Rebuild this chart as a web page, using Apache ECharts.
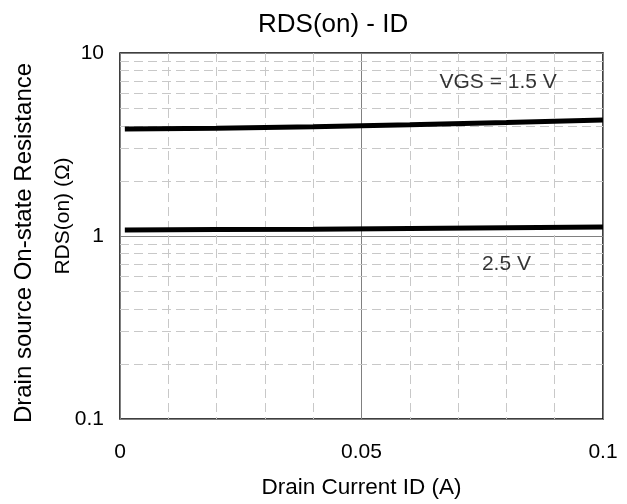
<!DOCTYPE html>
<html><head><meta charset="utf-8">
<script src="https://cdn.jsdelivr.net/npm/echarts@6/dist/echarts.min.js"></script>
<style>html,body{margin:0;padding:0;background:#fff}#c{width:627px;height:504px}</style>
</head><body><div id="c"></div>
<script>
const titleText = "RDS(on) - ID";
const xName = "Drain Current ID (A)";
const yName1 = "Drain source On-state Resistance";
const yName2 = "RDS(on) (Ω)";
const xCurrent = [0.001, 0.02, 0.04, 0.06, 0.08, 0.1];
const rds15 = [3.84, 3.88, 3.95, 4.05, 4.17, 4.3];
const rds25 = [1.08, 1.085, 1.09, 1.10, 1.11, 1.12];
const labels = [{name: "VGS = 1.5 V", x: 0.0783, y: 6.95}, {name: "2.5 V", x: 0.080, y: 0.70}];
const minorY = [0.2,0.3,0.4,0.5,0.6,0.7,0.8,0.9,2,3,4,5,6,7,8,9];

const font = "'Liberation Sans', Arial, sans-serif";
const chart = echarts.init(document.getElementById('c'), null, {renderer: 'canvas'});
chart.setOption({
  animation: false,
  title: {text: titleText, left: 253, top: 7, textStyle: {fontFamily: font, fontSize: 26, fontWeight: 'normal', color: '#000'}},
  grid: {left: 120, right: 24, top: 53, bottom: 84, show: true, borderColor: '#000', borderWidth: 1.5, backgroundColor: 'transparent'},
  xAxis: {
    type: 'value', min: 0, max: 0.1, interval: 0.05,
    name: xName, nameLocation: 'middle', nameGap: 57,
    nameTextStyle: {fontFamily: font, fontSize: 22.5, color: '#000'},
    axisLine: {show: false}, axisTick: {show: false},
    axisLabel: {fontFamily: font, fontSize: 21, color: '#000', margin: 23, formatter: v => String(+v.toFixed(3))},
    splitLine: {show: true, lineStyle: {color: '#808080', width: 1}},
    minorTick: {show: false, splitNumber: 5},
    minorSplitLine: {show: true, lineStyle: {color: '#c8c8c8', width: 1, type: [9, 5]}}
  },
  yAxis: {
    type: 'log', logBase: 10, min: 0.1, max: 10,
    axisLine: {show: false}, axisTick: {show: false},
    axisLabel: {fontFamily: font, fontSize: 21, color: '#000', margin: 16, formatter: v => String(+(+v).toPrecision(3))},
    splitLine: {show: true, lineStyle: {color: '#808080', width: 1}}
  },
  graphic: [
    {type: 'text', rotation: Math.PI/2, x: 24, y: 243, style: {text: yName1, font: '24px ' + font, fill: '#000', align: 'center', verticalAlign: 'middle'}},
    {type: 'text', rotation: Math.PI/2, x: 63.5, y: 216, style: {text: yName2, font: '21px ' + font, fill: '#000', align: 'center', verticalAlign: 'middle'}}
  ],
  series: [
    {type: 'line', data: xCurrent.map((x,i)=>[x, rds15[i]]), showSymbol: false, lineStyle: {color: '#000', width: 5}, z: 5,
     markLine: {silent: true, symbol: 'none', label: {show: false}, lineStyle: {color: '#c8c8c8', width: 1, type: [9,5]}, data: minorY.map(v => ({yAxis: v})), z: 1}},
    {type: 'line', data: xCurrent.map((x,i)=>[x, rds25[i]]), showSymbol: false, lineStyle: {color: '#000', width: 5}, z: 5},
    {type: 'scatter', data: labels.map(l => ({value: [l.x, l.y], name: l.name})), symbolSize: 0,
     label: {show: true, position: 'inside', formatter: p => p.name, fontFamily: font, fontSize: 21, color: '#000'}}
  ]
});
</script></body></html>
